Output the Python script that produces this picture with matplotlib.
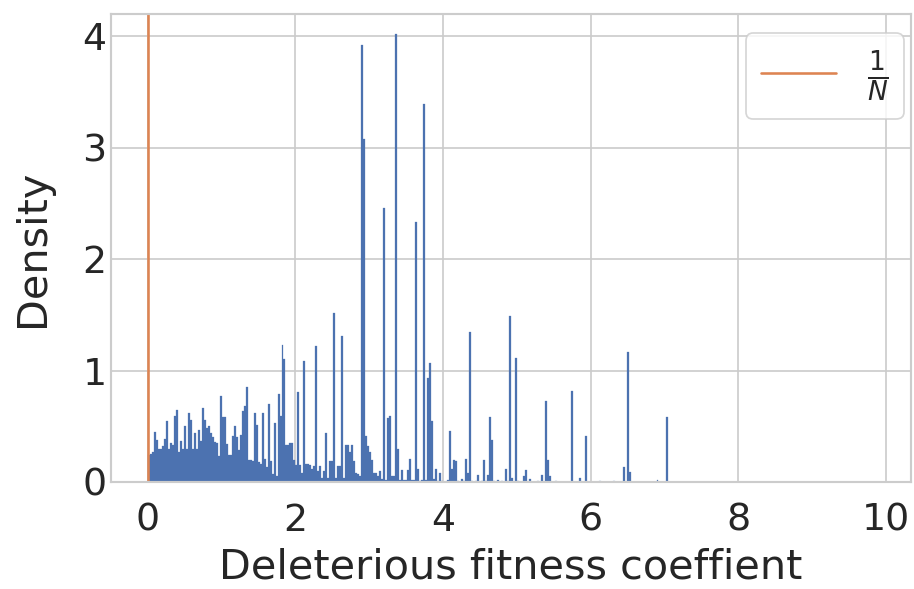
import numpy as np
import matplotlib
matplotlib.use("Agg")
import matplotlib.pyplot as plt
import seaborn as sns

# histogram heights (density) per bin
bin_width = 10 / 370
heights = [
    0.24, 0.25, 0.27, 0.45, 0.38, 0.30, 0.30, 0.32, 0.39, 0.55,
    0.30, 0.35, 0.33, 0.59, 0.65, 0.27, 0.37, 0.30, 0.50, 0.30,
    0.62, 0.56, 0.30, 0.44, 0.30, 0.47, 0.37, 0.66, 0.56, 0.48,
    0.50, 0.44, 0.40, 0.36, 0.35, 0.23, 0.77, 0.58, 0.58, 0.34,
    0.24, 0.24, 0.41, 0.50, 0.40, 0.29, 0.42, 0.64, 0.68, 0.85,
    0.20, 0.20, 0.19, 0.62, 0.51, 0.18, 0.16, 0.62, 0.21, 0.13,
    0.70, 0.19, 0.07, 0.53, 0.05, 0.79, 0.59, 1.23, 1.10, 0.33,
    0.33, 0.35, 0.35, 0.20, 0.15, 0.81, 0.15, 0.08, 1.09, 0.16,
    0.16, 0.15, 0.12, 0.14, 1.22, 0.10, 0.14, 0.04, 0.10, 0.44,
    0.04, 0.19, 0.19, 1.52, 0.04, 0.14, 0.14, 1.31, 0.04, 0.33,
    0.33, 0.27, 0.33, 0.19, 0.08, 0.07, 0.05, 3.92, 3.08, 0.41,
    0.32, 0.27, 0.20, 0.08, 0.08, 0.05, 0.10, 0.03, 2.46, 0.02,
    0.57, 0.59, 0.05, 0.05, 4.02, 0.30, 0.02, 0.11, 0.02, 0.02,
    0.11, 0.21, 0.02, 0.02, 2.33, 0.12, 0.01, 0.02, 3.39, 0.02,
    0.93, 1.07, 0.55, 0.03, 0.12, 0.01, 0.08, 0.01, 0.00, 0.00,
    0.02, 0.46, 0.12, 0.20, 0.19, 0.01, 0.00, 0.03, 0.01, 0.21,
    0.08, 1.35, 0.01, 0.00, 0.01, 0.06, 0.00, 0.01, 0.20, 0.01,
    0.06, 0.58, 0.38, 0.01, 0.00, 0.02, 0.00, 0.01, 0.00, 0.12,
    0.01, 1.49, 0.04, 0.00, 1.11, 0.01, 0.00, 0.00, 0.05, 0.11,
    0.00, 0.03, 0.00, 0.00, 0.00, 0.01, 0.00, 0.06, 0.00, 0.73,
    0.20, 0.05, 0.00, 0.00, 0.01, 0.00, 0.00, 0.00, 0.00, 0.00,
    0.00, 0.00, 0.82, 0.00, 0.00, 0.00, 0.04, 0.00, 0.00, 0.41,
    0.00, 0.00, 0.00, 0.00, 0.00, 0.00, 0.01, 0.00, 0.00, 0.00,
    0.00, 0.00, 0.00, 0.01, 0.00, 0.00, 0.00, 0.00, 0.13, 0.00,
    1.17, 0.09, 0.00, 0.00, 0.00, 0.00, 0.00, 0.00, 0.00, 0.00,
    0.00, 0.00, 0.00, 0.00, 0.00, 0.02, 0.00, 0.00, 0.00, 0.00,
    0.58,
]
N = 1000
x_label = "Deleterious fitness coeffient"
y_label = "Density"

sns.set_theme(style="whitegrid", context="notebook", font_scale=2)

fig, ax = plt.subplots(figsize=(914 / 124, 589 / 124), dpi=124)
fig.subplots_adjust(left=0.1214, right=0.9967, bottom=0.1817, top=0.9762)

left_edges = np.arange(len(heights)) * bin_width
ax.bar(left_edges, heights, width=bin_width, align="edge",
       color="C0", edgecolor="C0", linewidth=0.15)
ax.axvline(1 / N, color="C1", label=r"$\frac{1}{N}$")

ax.set_xlim(-0.5, 10.34)
ax.set_ylim(0, 4.2)
ax.tick_params(axis="y", length=0, pad=2.5)
ax.tick_params(axis="x", length=0, pad=12)
ax.set_xlabel(x_label, labelpad=5)
ax.set_ylabel(y_label, labelpad=17)
ax.legend(loc="upper right", bbox_to_anchor=(0.991, 0.959), borderaxespad=0)

fig.savefig("out.png", dpi=124)
